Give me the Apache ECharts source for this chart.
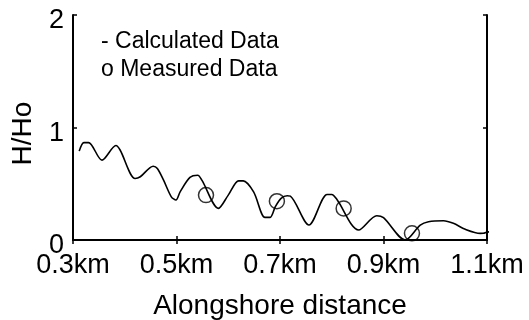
<!DOCTYPE html>
<html>
<head>
<meta charset="utf-8">
<script src="https://cdn.jsdelivr.net/npm/echarts@6/dist/echarts.min.js"></script>
<style>
html,body{margin:0;padding:0;background:#fff;}
#c{width:529px;height:320px;}
</style>
</head>
<body>
<div id="c"></div>
<script>
// Calculated data (km, H/Ho)
var calcX = [0.312,0.321,0.330,0.356,0.383,0.391,0.420,0.430,0.455,0.463,0.475,0.490,0.499,0.507,0.526,0.541,0.549,0.581,0.600,0.620,0.629,0.649,0.671,0.681,0.691,0.702,0.714,0.720,0.756,0.791,0.800,0.810,0.852,0.887,0.900,0.942,0.971,0.987,1.016,1.035,1.058,1.087,1.093,1.100,1.110];
var calcY = [0.79,0.866,0.866,0.71,0.84,0.80,0.547,0.562,0.656,0.636,0.532,0.384,0.355,0.428,0.556,0.576,0.532,0.281,0.399,0.526,0.526,0.428,0.201,0.201,0.296,0.37,0.393,0.39,0.133,0.405,0.405,0.36,0.089,0.216,0.198,0.0,0.133,0.163,0.171,0.148,0.095,0.059,0.06,0.07,0.074];
// Measured data
var measX = [0.557,0.694,0.823,0.955];
var measY = [0.399,0.345,0.281,0.059];
// Axis ticks
var xMin = 0.3, xMax = 1.1, xStep = 0.2;
var yMin = 0, yMax = 2, yStep = 1;
var xTitle = 'Alongshore distance';
var yTitle = 'H/Ho';
var legendLines = ['- Calculated Data', 'o Measured Data'];

var calc = calcX.map(function(x,i){return [x, calcY[i]];});
var meas = measX.map(function(x,i){return [x, measY[i]];});

var FONT = 'Liberation Sans, Arial, sans-serif';
var chart = echarts.init(document.getElementById('c'), null, {renderer:'canvas'});
var axisLine = {show:true, lineStyle:{color:'#000', width:2}};
var tick = {show:true, inside:true, length:4, lineStyle:{color:'#000', width:1.5}};
chart.setOption({
  animation:false,
  backgroundColor:'#fff',
  grid:{left:73, right:42, top:15, bottom:80, containLabel:false, outerBoundsMode:'none'},
  xAxis:[{
    type:'value', min:xMin, max:xMax, interval:xStep, position:'bottom',
    axisLine:axisLine, axisTick:tick,
    splitLine:{show:false},
    axisLabel:{color:'#000', fontFamily:FONT, fontSize:27, margin:12,
      formatter:function(v){return (+v.toFixed(1)) + 'km';}},
    name:xTitle, nameLocation:'middle', nameGap:52,
    nameTextStyle:{color:'#000', fontFamily:FONT, fontSize:28}
  },{
    type:'value', min:xMin, max:xMax, interval:xStep, position:'top',
    axisLine:axisLine, axisTick:tick,
    axisLabel:{show:false}, splitLine:{show:false}
  }],
  yAxis:[{
    type:'value', min:yMin, max:yMax, interval:yStep, position:'left',
    axisLine:axisLine, axisTick:tick,
    splitLine:{show:false},
    axisLabel:{color:'#000', fontFamily:FONT, fontSize:27, margin:9, verticalAlign:'top', lineHeight:12},
    name:yTitle, nameLocation:'middle', nameGap:36,
    nameTextStyle:{color:'#000', fontFamily:FONT, fontSize:28, padding:[0,12,0,0]}
  },{
    type:'value', min:yMin, max:yMax, interval:yStep, position:'right',
    axisLine:axisLine, axisTick:tick,
    axisLabel:{show:false}, splitLine:{show:false}
  }],
  graphic:[
    {type:'text', left:101, top:30, style:{text:legendLines[0], fill:'#000', font:'23px ' + FONT}},
    {type:'text', left:101, top:58, style:{text:legendLines[1], fill:'#000', font:'23px ' + FONT}}
  ],
  series:[{
    type:'line', data:calc, xAxisIndex:0, yAxisIndex:0,
    showSymbol:false, smooth:0.3, clip:false,
    lineStyle:{color:'#000', width:1.6}
  },{
    type:'scatter', data:meas, xAxisIndex:0, yAxisIndex:0,
    symbol:'circle', symbolSize:15,
    itemStyle:{color:'rgba(0,0,0,0)', borderColor:'#000', borderWidth:1.5}
  }]
});
</script>
</body>
</html>
